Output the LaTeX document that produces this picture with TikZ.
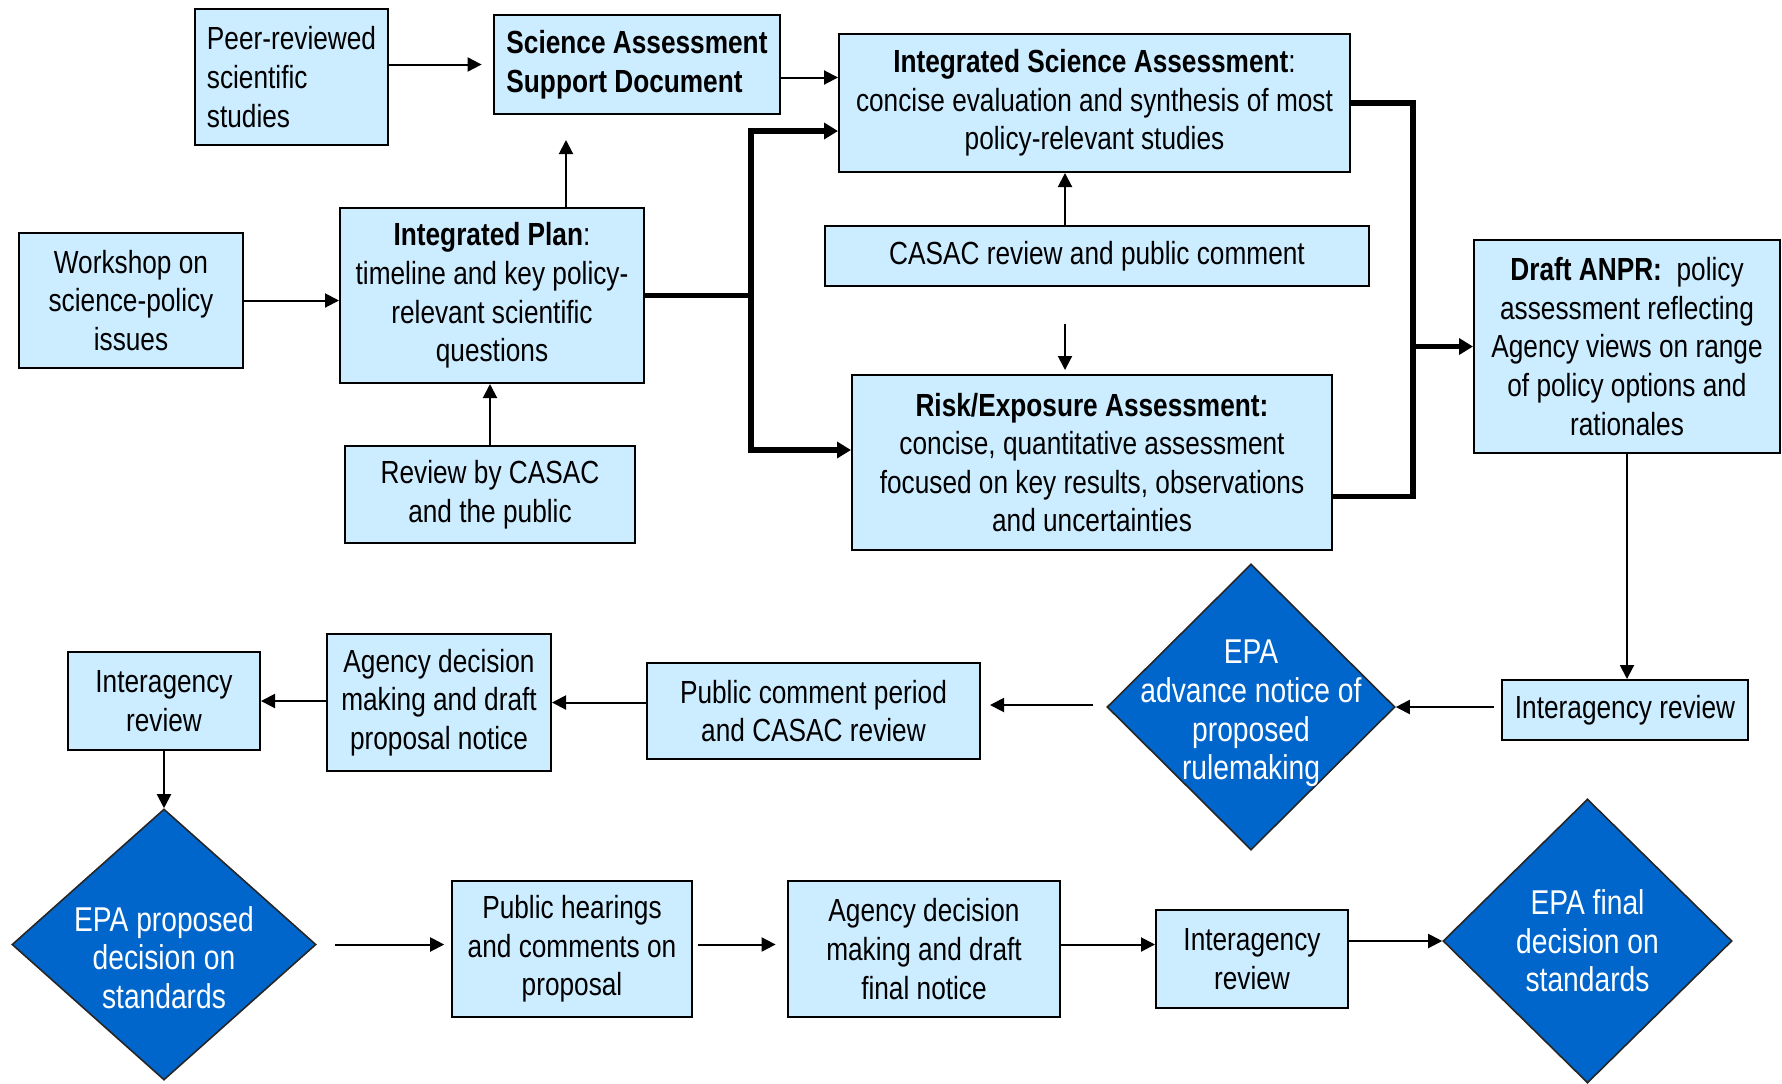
\documentclass[tikz,border=0pt]{standalone}
\usepackage{fontspec}
\setmainfont[FakeStretch=0.82]{Liberation Sans}
\usetikzlibrary{calc,shapes.geometric,arrows.meta}
\definecolor{boxblue}{RGB}{204,236,255}
\definecolor{epablue}{RGB}{0,102,204}

\begin{document}
\begin{tikzpicture}[x=0.5pt,y=-0.5pt,font=\fontsize{16}{19.3}\selectfont,
  wh/.style 2 args={minimum width=#1*0.5pt, minimum height=#2*0.5pt},
  box/.style={draw, line width=1pt, fill=boxblue, align=center, inner sep=0pt},
  epa/.style={diamond, draw=black!85, line width=0.8pt, fill=epablue, inner sep=0pt},
  epatext/.style={text=white, align=center, inner sep=0pt, font=\fontsize{17.2}{19.3}\selectfont},
  arr/.style={line width=1pt, -{Triangle[length=7pt,width=7pt]}},
  bus/.style={line width=2.8pt},
  busarr/.style={line width=2.8pt, -{Triangle[length=7pt,width=8pt]}}]

\useasboundingbox (0,0) rectangle (1782,1083);

% science assessment
\node[box, wh={193}{136}, align=left] (peer) at (291.5,77) {Peer-reviewed\\scientific\\studies};
\node[box, wh={286}{99}, align=left, font=\fontsize{16}{19.3}\selectfont\bfseries] (sasd) at (637,64.5) {Science Assessment\\Support Document};
\node[box, wh={511}{138}] (isa) at (1094.5,103) {\textbf{Integrated Science Assessment}:\\concise evaluation and synthesis of most\\policy-relevant studies};
\node[box, wh={224}{135}] (workshop) at (131,300.5) {Workshop on\\science-policy\\issues};
\node[box, wh={304}{175}] (plan) at (492,295.5) {\textbf{Integrated Plan}:\\timeline and key policy-\\relevant scientific\\questions};
\node[box, wh={544}{60}] (casac) at (1097,256) {CASAC review and public comment};
\node[box, wh={290}{97}] (review) at (490,494.5) {Review by CASAC\\and the public};
\node[box, wh={480}{175}] (risk) at (1092,462.5) {\textbf{Risk/Exposure Assessment:}\\concise, quantitative assessment\\focused on key results, observations\\and uncertainties};
\node[box, wh={306}{213}] (anpr) at (1627,346.5) {\textbf{Draft ANPR:}~ policy\\assessment reflecting\\Agency views on range\\of policy options and\\rationales};

% rulemaking
\node[box, wh={246}{60}] (interR) at (1625,710) {Interagency review};
\node[epa, wh={288}{286}] (anprd) at (1251,707) {};
\node[epatext] (anprdt) at ($(anprd)+(0,6.5)$) {EPA\\advance notice of\\proposed\\rulemaking};
\node[box, wh={333}{96}] (pubc) at (813.5,711) {Public comment period\\and CASAC review};
\node[box, wh={224}{137}] (agp) at (439,702.5) {Agency decision\\making and draft\\proposal notice};
\node[box, wh={192}{98}] (interL) at (164,701) {Interagency\\review};
\node[epa, wh={304}{271}] (epap) at (164,944.5) {};
\node[epatext] (epapt) at ($(epap)+(0,13)$) {EPA proposed\\decision on\\standards};
\node[box, wh={240}{136}] (hear) at (572,949) {Public hearings\\and comments on\\proposal};
\node[box, wh={272}{136}] (agf) at (924,949) {Agency decision\\making and draft\\final notice};
\node[box, wh={192}{98}] (interB) at (1252,959) {Interagency\\review};
\node[epa, wh={289}{284}] (epaf) at (1587.5,941) {};
\node[epatext] (epaft) at (epaf) {EPA final\\decision on\\standards};

\draw[arr, shorten >=5.7pt] (peer.east |- sasd) -- (sasd.west);
\draw[arr] ($(sasd.east)+(0,13)$) coordinate (s1) -- (s1 -| isa.west);
\draw[arr, shorten >=12.5pt] ($(plan.north)+(74,0)$) coordinate (p1) -- (p1 |- sasd.south);
\draw[arr] (workshop.east) -- (workshop.east -| plan.west);
\draw[arr] (review.north) -- (review.north |- plan.south);

\coordinate (split) at ($(plan.east)+(106,0)$);
\draw[bus] (plan.east) -- (split);
\draw[busarr] (split) |- ($(isa.west)+(0,28)$);
\draw[busarr] (split) |- ($(risk.west)+(0,-12.5)$);

\draw[arr] ($(casac.north)+(-32,0)$) coordinate (c1) -- (c1 |- isa.south);
\draw[arr, shorten <=18.7pt, shorten >=2pt] ($(casac.south)+(-32,0)$) coordinate (c2) -- (c2 |- risk.north);

\coordinate (join) at ($(anpr.west)+(-60,0)$);
\draw[bus] (isa.east) -| (join);
\draw[bus] ($(risk.east)+(0,34)$) -| (join);
\draw[busarr] (join) -- (anpr.west);

\draw[arr] (anpr.south) -- (anpr.south |- interR.north);
\draw[arr, shorten <=3.4pt] (interR.west |- anprd) -- (anprd.east);
\draw[arr, shorten <=6.8pt, shorten >=4.5pt] ($(anprd.west)+(0,-2)$) coordinate (a1) -- (a1 -| pubc.east);
\draw[arr] (pubc.west |- agp) -- (agp.east);
\draw[arr] (agp.west |- interL) -- (interL.east);
\draw[arr] (interL.south) -- (epap.north);

\draw[arr, shorten <=9pt, shorten >=3.4pt] (epap.east) -- (epap.east -| hear.west);
\draw[arr, shorten <=2.3pt, shorten >=5.7pt] (hear.east |- epap) -- (agf.west |- epap);
\draw[arr] (agf.east |- epap) -- (interB.west |- epap);
\draw[arr] (interB.east |- epaf) -- (epaf.west);

\end{tikzpicture}
\end{document}
